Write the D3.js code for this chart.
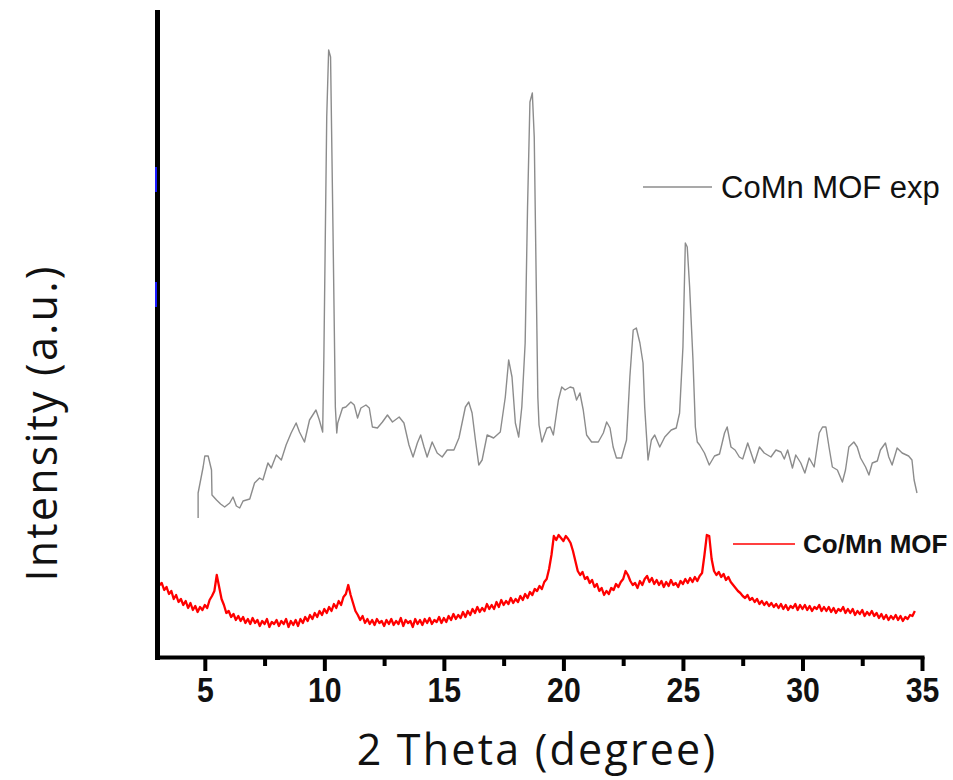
<!DOCTYPE html>
<html>
<head>
<meta charset="utf-8">
<script src="https://cdn.jsdelivr.net/npm/d3@7"></script>
<style>
  html, body { margin: 0; padding: 0; background: #ffffff; }
  svg { display: block; }
</style>
</head>
<body>
<div id="chart"></div>
<script>
// Powder XRD patterns: 2θ (degree) vs intensity (a.u.)

const majorTicks = [5, 10, 15, 20, 25, 30, 35];
const minorTicks = [7.5, 12.5, 17.5, 22.5, 27.5, 32.5];

const seriesNames = ["CoMn MOF exp", "Co/Mn MOF"];

// CoMn MOF exp: [2θ, intensity]
const expPattern = [
  [4.72,139],[4.72,164],[4.93,190],[5.0,201],[5.14,201],[5.28,187],[5.3,162],[5.49,157],[5.66,153],[5.83,150],
  [6.04,154],[6.18,160],[6.32,151],[6.46,149],[6.6,156],[6.88,158],[7.08,174],[7.29,179],[7.43,177],[7.64,194],
  [7.78,189],[7.99,202],[8.2,197],[8.4,212],[8.61,224],[8.82,234],[8.96,225],[9.17,215],[9.38,237],[9.65,247],
  [9.79,237],[9.93,225],[9.98,300],[10.1,540],[10.18,607],[10.26,600],[10.36,430],[10.46,250],[10.52,224],[10.56,234],
  [10.76,249],[10.9,250],[11.11,255],[11.25,252],[11.39,239],[11.53,249],[11.74,252],[11.88,249],[12.01,230],[12.22,229],
  [12.43,235],[12.64,242],[12.85,235],[13.13,240],[13.33,234],[13.54,212],[13.71,200],[13.89,214],[14.03,222],[14.17,210],
  [14.3,200],[14.51,215],[14.72,204],[14.93,200],[15.14,207],[15.42,207],[15.63,219],[15.9,250],[16.04,255],[16.18,244],
  [16.32,217],[16.46,192],[16.6,197],[16.81,222],[17.08,219],[17.36,225],[17.57,260],[17.71,297],[17.85,280],[17.99,234],
  [18.13,220],[18.26,250],[18.4,314],[18.5,450],[18.6,555],[18.7,564],[18.78,520],[18.86,380],[18.93,260],[18.98,232],
  [19.1,215],[19.31,229],[19.45,230],[19.58,222],[19.79,257],[19.93,270],[20.07,267],[20.28,270],[20.42,269],[20.55,257],
  [20.69,264],[20.83,247],[20.97,222],[21.18,215],[21.46,215],[21.67,224],[21.81,235],[21.95,229],[22.08,210],[22.22,199],
  [22.43,199],[22.64,217],[22.78,280],[22.92,327],[23.05,329],[23.2,314],[23.33,294],[23.4,250],[23.54,197],[23.68,217],
  [23.82,222],[24.03,210],[24.24,220],[24.51,227],[24.72,229],[24.86,244],[25.0,310],[25.1,414],[25.18,410],[25.28,370],
  [25.42,297],[25.52,230],[25.6,215],[25.7,212],[25.9,204],[26.1,192],[26.32,201],[26.53,203],[26.74,224],[26.85,230],
  [27.01,210],[27.18,207],[27.36,200],[27.5,198],[27.71,214],[27.85,204],[27.99,194],[28.2,210],[28.4,204],[28.68,200],
  [28.89,207],[29.1,205],[29.24,198],[29.38,207],[29.58,189],[29.72,202],[29.93,194],[30.1,184],[30.28,199],[30.49,190],
  [30.7,224],[30.84,230],[30.98,230],[31.11,210],[31.25,190],[31.46,187],[31.67,175],[31.8,187],[31.94,210],[32.15,215],
  [32.29,210],[32.43,199],[32.64,190],[32.78,182],[32.92,194],[33.13,196],[33.26,207],[33.47,214],[33.61,200],[33.75,192],
  [33.96,209],[34.17,204],[34.44,201],[34.58,197],[34.67,177],[34.79,164]
];

// Co/Mn MOF: measured on a 0.1° grid starting at 3.0°
const scanStart = 3.0;
const scanStep = 0.1;
const scanIntensity = [
  78, 72, 74, 67, 70, 63, 66, 58, 62, 55,
  58, 52, 56, 49, 54, 47, 51, 45, 50, 47,
  52, 49, 57, 61, 66, 82, 70, 58, 52, 44,
  46, 40, 43, 37, 41, 36, 40, 34, 38, 33,
  39, 34, 37, 31, 36, 33, 38, 30, 35, 33,
  37, 31, 36, 33, 38, 30, 36, 32, 37, 31,
  38, 34, 40, 36, 42, 38, 44, 40, 46, 42,
  48, 44, 50, 46, 53, 49, 56, 52, 60, 63,
  72, 62, 54, 46, 42, 37, 41, 34, 38, 33,
  37, 32, 38, 34, 36, 31, 37, 33, 38, 32,
  36, 33, 39, 31, 37, 34, 36, 30, 38, 33,
  37, 32, 38, 34, 39, 33, 37, 35, 40, 34,
  39, 35, 41, 37, 43, 38, 42, 39, 45, 40,
  46, 42, 48, 44, 50, 45, 49, 46, 53, 48,
  52, 48, 55, 50, 57, 52, 56, 53, 59, 54,
  58, 55, 61, 57, 63, 59, 65, 62, 68, 66,
  71, 68, 75, 78, 88, 102, 121, 117, 122, 119,
  116, 121, 118, 114, 106, 96, 86, 82, 85, 78,
  80, 74, 77, 70, 73, 66, 69, 62, 66, 63,
  69, 67, 73, 70, 75, 78, 86, 82, 76, 72,
  74, 69, 76, 72, 78, 81, 75, 79, 73, 77,
  72, 76, 70, 75, 71, 77, 72, 74, 70, 76,
  73, 78, 74, 79, 75, 80, 76, 81, 84, 102,
  122, 121, 98, 86, 82, 85, 80, 83, 77, 80,
  75, 72, 69, 66, 64, 61, 59, 62, 57, 59,
  55, 58, 53, 56, 52, 55, 51, 54, 50, 53,
  49, 53, 48, 52, 47, 51, 49, 53, 47, 52,
  48, 52, 47, 51, 46, 50, 48, 52, 46, 50,
  46, 50, 45, 49, 44, 48, 46, 50, 44, 48,
  44, 48, 42, 46, 43, 47, 41, 45, 42, 46,
  41, 44, 39, 43, 38, 42, 37, 41, 38, 42,
  37, 41, 36, 40, 38, 42, 41, 46
];

const W = 953, H = 780;
const svg = d3.select("#chart").append("svg")
  .attr("width", W).attr("height", H)
  .style("background", "#ffffff");

const x = d3.scaleLinear().domain([3, 35]).range([157, 922]);
const y = d3.scaleLinear().domain([0, 645]).range([657, 12]);

const scanPattern = scanIntensity.map((v, i) => [scanStart + i * scanStep, v]);

const line = d3.line().x(d => x(d[0])).y(d => y(d[1]));

// traces
svg.append("path")
  .datum(scanPattern)
  .attr("d", line)
  .attr("fill", "none")
  .attr("stroke", "#ff0000")
  .attr("stroke-width", 2.3)
  .attr("stroke-linejoin", "round");

svg.append("path")
  .datum(expPattern)
  .attr("d", line)
  .attr("fill", "none")
  .attr("stroke", "#8c8c8c")
  .attr("stroke-width", 1.4)
  .attr("stroke-linejoin", "round");

// x axis: minor ticks
svg.append("g")
  .attr("transform", `translate(0,${y(0)})`)
  .call(d3.axisBottom(x).tickValues(minorTicks).tickSize(9).tickSizeOuter(0).tickFormat(""))
  .call(g => g.select(".domain").remove())
  .call(g => g.selectAll(".tick line").attr("stroke", "#000").attr("stroke-width", 4));

// x axis: major ticks and labels
const xAxis = svg.append("g")
  .attr("transform", `translate(0,${y(0)})`)
  .call(d3.axisBottom(x).tickValues(majorTicks).tickSize(14).tickSizeOuter(0).tickPadding(5));
xAxis.select(".domain").attr("stroke", "#000").attr("stroke-width", 4).attr("stroke-linecap", "square");
xAxis.selectAll(".tick line").attr("stroke", "#000").attr("stroke-width", 4);
xAxis.selectAll(".tick text")
  .attr("fill", "#111")
  .attr("transform", "scale(0.84,1)")
  .style("font-family", "'Liberation Sans', Arial, sans-serif")
  .style("font-weight", "bold")
  .style("font-size", "36px");

// y axis (no ticks)
const yAxis = svg.append("g")
  .attr("transform", `translate(${x(3)},0)`)
  .call(d3.axisLeft(y).tickValues([]).tickSizeOuter(0));
yAxis.select(".domain").attr("stroke", "#000").attr("stroke-width", 5).attr("stroke-linecap", "square");

// small blue marks on the y axis line
[[465, 490], [350, 375]].forEach(([a, b]) => {
  svg.append("line")
    .attr("x1", x(3) - 1).attr("x2", x(3) - 1)
    .attr("y1", y(a)).attr("y2", y(b))
    .attr("stroke", "#1a1aff").attr("stroke-width", 2);
});

// axis titles
svg.append("text")
  .attr("x", 537).attr("y", 765)
  .attr("text-anchor", "middle")
  .style("font-family", "'Open Sans', 'Noto Sans', sans-serif")
  .style("font-size", "43px")
  .style("letter-spacing", "2.2px")
  .attr("fill", "#111")
  .text("2 Theta (degree)");

svg.append("text")
  .attr("transform", "translate(57,423) rotate(-90)")
  .attr("text-anchor", "middle")
  .style("font-family", "'Open Sans', 'Noto Sans', sans-serif")
  .style("font-size", "43px")
  .style("letter-spacing", "2.2px")
  .attr("fill", "#111")
  .text("Intensity (a.u.)");

// legends
const legend = [
  { name: seriesNames[0], color: "#8c8c8c", x1: 643, x2: 712, ly: 187, tx: 721, ty: 198, size: 31, weight: "normal" },
  { name: seriesNames[1], color: "#ff0000", x1: 733, x2: 795, ly: 544, tx: 803, ty: 553, size: 26, weight: "bold" }
];
legend.forEach(l => {
  svg.append("line")
    .attr("x1", l.x1).attr("x2", l.x2).attr("y1", l.ly).attr("y2", l.ly)
    .attr("stroke", l.color).attr("stroke-width", 1.6);
  svg.append("text")
    .attr("x", l.tx).attr("y", l.ty)
    .style("font-family", "'Liberation Sans', Arial, sans-serif")
    .style("font-size", l.size + "px")
    .style("font-weight", l.weight)
    .attr("fill", "#111")
    .text(l.name);
});
</script>
</body>
</html>
